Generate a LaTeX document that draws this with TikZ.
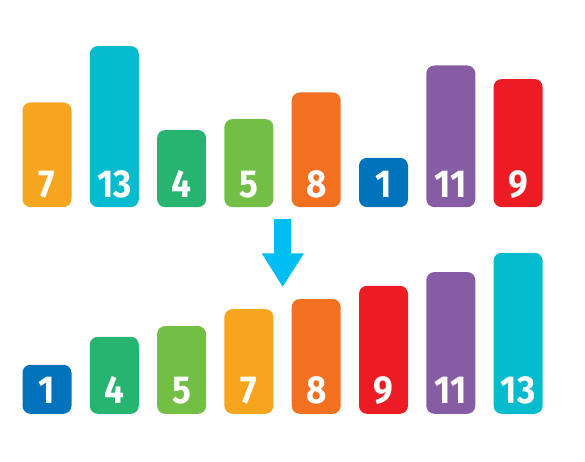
\documentclass[tikz,border=0pt]{standalone}
\usepackage{fontspec}
\newfontfamily\digitfont[FakeStretch=0.9]{Fira Sans}
\definecolor{cOrange}{HTML}{F7A51E}
\definecolor{cCyan}{HTML}{06BBCD}
\definecolor{cGreen}{HTML}{27B370}
\definecolor{cLime}{HTML}{73BF45}
\definecolor{cDeep}{HTML}{F37021}
\definecolor{cBlue}{HTML}{0073BC}
\definecolor{cPurple}{HTML}{865CA5}
\definecolor{cRed}{HTML}{ED1C24}
\definecolor{cArrow}{HTML}{00BEF2}
\tikzset{
  barbox/.style={rounded corners=8pt, inner sep=0pt, minimum width=49pt, anchor=south west},
  numtext/.style={text=white, font=\digitfont\bfseries\fontsize{39}{39}\selectfont, anchor=base, inner sep=0pt}
}
\newcommand\mkbar[6]{%
  \node[barbox, fill=#5, minimum height={#4-#3}] (#1) at (#2,#4) {};
  \node[numtext] (#1t) at ([yshift=10.3pt]#1.south) {#6};
}
\begin{document}
\begin{tikzpicture}[x=1pt,y=-1pt]
\useasboundingbox (0,0) rectangle (585,462);
% top row
\mkbar{a1}{22.3}{102.7}{207.3}{cOrange}{7}
\mkbar{a2}{89.6}{46.3}{207.3}{cCyan}{13}
\mkbar{a3}{156.9}{130.3}{207.3}{cGreen}{4}
\mkbar{a4}{224.2}{119.3}{207.3}{cLime}{5}
\mkbar{a5}{291.5}{92.7}{207.3}{cDeep}{8}
\mkbar{a6}{358.8}{158}{207.3}{cBlue}{1}
\mkbar{a7}{426.1}{65.7}{207.3}{cPurple}{11}
\mkbar{a8}{493.4}{79.3}{207.3}{cRed}{9}
% bottom row
\mkbar{b1}{22.3}{365}{414}{cBlue}{1}
\mkbar{b2}{89.6}{337}{414}{cGreen}{4}
\mkbar{b3}{156.9}{326.3}{414}{cLime}{5}
\mkbar{b4}{224.2}{309.3}{414}{cOrange}{7}
\mkbar{b5}{291.5}{299.3}{414}{cDeep}{8}
\mkbar{b6}{358.8}{286}{414}{cRed}{9}
\mkbar{b7}{426.1}{272.3}{414}{cPurple}{11}
\mkbar{b8}{493.4}{253}{414}{cCyan}{13}
% arrow
\fill[cArrow] (274,219) -- (291,219) -- (291,253.3) -- (304,253.3) -- (282.7,286.7) -- (261.7,253.3) -- (274,253.3) -- cycle;
\end{tikzpicture}
\end{document}
